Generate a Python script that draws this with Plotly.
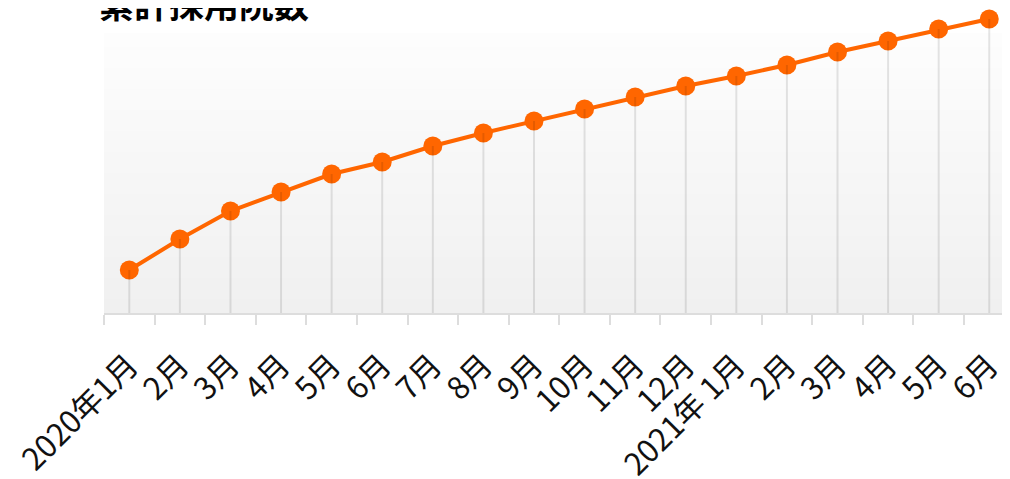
import plotly.graph_objects as go

months = ["2020年1月", "2月", "3月", "4月", "5月", "6月", "7月", "8月", "9月",
          "10月", "11月", "12月", "2021年 1月", "2月", "3月", "4月", "5月", "6月"]
cats = [f"c{i}" for i in range(len(months))]
values = [43, 74, 102, 121, 139, 151, 167, 180, 192, 204, 216, 227, 237, 248, 261, 272, 284, 294]
title_text = "累計採用院数"

# the page adds an 8px body margin, so the figure is sized to fit the window
W, H = 1002, 471
ML, MB = 96, 166
ORANGE = "#ff6600"
plot_h = H - MB          # plot area spans from the top of the figure down to the axis
grad_top = 280           # top of the shaded background in y units

fig = go.Figure()

# drop lines
dx, dy = [], []
for c, v in zip(cats, values):
    dx += [c, c, None]
    dy += [v, 0, None]

fig.add_trace(go.Scatter(
    x=cats, y=values, mode="lines+markers",
    line=dict(color=ORANGE, width=4),
    marker=dict(color=ORANGE, size=19),
    cliponaxis=False, hoverinfo="skip", showlegend=False))
fig.add_trace(go.Scatter(
    x=dx, y=dy, mode="lines",
    line=dict(color="rgba(0,0,0,0.1)", width=2),
    cliponaxis=False, hoverinfo="skip", showlegend=False))

# vertical gradient background
n = 40
shapes = []
top = (253, 253, 253)
bot = (240, 240, 240)
for i in range(n):
    t = (i + 0.5) / n
    c = tuple(round(top[k] + (bot[k] - top[k]) * t) for k in range(3))
    shapes.append(dict(type="rect", xref="paper", yref="y",
                       x0=0, x1=1, y0=grad_top * (1 - (i + 1) / n), y1=grad_top * (1 - i / n),
                       fillcolor=f"rgb{c}", line=dict(width=0), layer="below"))

fig.update_layout(
    width=W, height=H,
    margin=dict(l=ML, r=0, t=0, b=MB, pad=0),
    paper_bgcolor="white", plot_bgcolor="rgba(0,0,0,0)",
    shapes=shapes,
    font=dict(family="Noto Sans CJK JP", color="#111"),
    xaxis=dict(
        type="category", categoryorder="array", categoryarray=cats,
        tickvals=cats, ticktext=months, tickangle=-45,
        range=[-0.5, 17.41], tickson="boundaries",
        ticks="outside", ticklen=10, tickwidth=2, tickcolor="#dddddd",
        showline=True, linecolor="#dddddd", linewidth=2,
        showgrid=False, zeroline=False, automargin=False,
        ticklabelstandoff=20,
        tickfont=dict(size=31, family="Noto Sans CJK JP", color="#111"),
        fixedrange=True),
    yaxis=dict(range=[0, plot_h], visible=False, showgrid=False,
               zeroline=False, fixedrange=True, automargin=False),
    annotations=[dict(
        text="<b>" + title_text + "</b>", xref="paper", yref="paper",
        x=0, xshift=-7, y=(plot_h - 22) / plot_h, xanchor="left", yanchor="bottom",
        showarrow=False, font=dict(size=35, family="Noto Sans CJK JP", color="#000"))],
)

fig.write_html("out.html")
